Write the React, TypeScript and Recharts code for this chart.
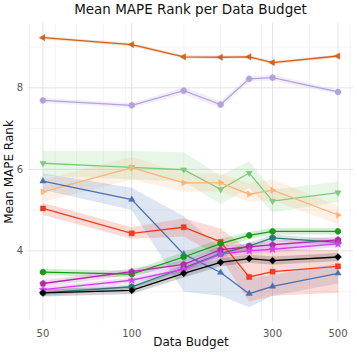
import { ComposedChart, Line, Area, XAxis, YAxis, CartesianGrid } from "recharts";

const budgets = [50, 100, 150, 200, 250, 300, 500];

// mean rank per budget
const orangeDark = [9.23, 9.06, 8.76, 8.75, 8.76, 8.62, 8.78];
const lavender = [7.69, 7.57, 7.93, 7.59, 8.22, 8.25, 7.9];
const lightGreen = [6.15, 6.05, 5.99, 5.51, 5.91, 5.22, 5.43];
const lightOrange = [5.45, 6.04, 5.67, 5.67, 5.39, 5.49, 4.88];
const blue = [5.71, 5.26, 3.92, 3.47, 2.95, 3.13, 3.45];
const red = [5.04, 4.43, 4.58, 4.22, 3.36, 3.49, 3.62];
const green = [3.48, 3.43, 3.85, 4.18, 4.38, 4.48, 4.48];
const teal = [2.97, 3.12, 3.58, 3.93, 4.12, 4.32, 4.21];
const magenta = [3.2, 3.49, 3.67, 4.03, 4.1, 4.15, 4.27];
const violet = [3.05, 3.28, 3.55, 3.92, 4.0, 4.04, 4.17];
const black = [2.97, 3.03, 3.45, 3.72, 3.81, 3.76, 3.85];

// confidence bands (low / high)
const orangeDarkLo = [9.19, 9.02, 8.72, 8.71, 8.72, 8.58, 8.74];
const orangeDarkHi = [9.27, 9.1, 8.8, 8.79, 8.8, 8.66, 8.82];
const lavenderLo = [7.63, 7.51, 7.84, 7.5, 8.15, 8.18, 7.84];
const lavenderHi = [7.75, 7.63, 8.02, 7.68, 8.29, 8.32, 7.96];
const lightGreenLo = [5.85, 5.75, 5.7, 5.15, 5.55, 4.95, 5.2];
const lightGreenHi = [6.45, 6.45, 6.42, 5.85, 6.2, 5.5, 5.7];
const lightOrangeLo = [5.2, 5.75, 5.45, 5.45, 5.2, 5.25, 4.65];
const lightOrangeHi = [5.75, 6.3, 5.9, 5.9, 5.65, 5.75, 5.1];
const blueLo = [5.5, 5.0, 3.0, 2.9, 2.62, 2.9, 3.2];
const blueHi = [5.9, 5.55, 4.85, 4.05, 3.35, 3.4, 3.7];
const redLo = [4.88, 4.3, 4.35, 3.85, 2.75, 2.9, 2.97];
const redHi = [5.18, 4.58, 4.8, 4.55, 4.02, 4.05, 4.02];
const greenLo = [3.4, 3.35, 3.73, 4.06, 4.29, 4.4, 4.4];
const greenHi = [3.56, 3.51, 3.97, 4.3, 4.47, 4.56, 4.56];
const tealLo = [2.9, 3.05, 3.5, 3.85, 4.04, 4.24, 4.13];
const tealHi = [3.04, 3.19, 3.66, 4.01, 4.2, 4.4, 4.29];
const magentaLo = [3.12, 3.41, 3.58, 3.94, 4.01, 4.06, 4.18];
const magentaHi = [3.28, 3.57, 3.76, 4.12, 4.19, 4.24, 4.36];
const violetLo = [2.98, 3.21, 3.47, 3.84, 3.92, 3.96, 4.09];
const violetHi = [3.12, 3.35, 3.63, 4.0, 4.08, 4.12, 4.25];
const blackLo = [2.88, 2.94, 3.35, 3.62, 3.71, 3.66, 3.75];
const blackHi = [3.06, 3.12, 3.55, 3.82, 3.91, 3.86, 3.95];

const xTicks = [50, 100, 300, 500];
const xMinor = [45, 55, 60, 65, 70, 75, 80, 85, 90, 95, 125, 150, 175, 200, 225, 250, 275, 325, 350, 375, 400, 425, 450, 475, 525, 550];
const yTicks = [4, 6, 8];
const yMinor = [3, 5, 7, 9];

type Marker = "o" | "s" | "^" | "v" | "<" | ">" | "D" | "p" | "*" | "h" | "8";

const series: { key: string; vals: number[]; lo: number[]; hi: number[]; color: string; marker: Marker }[] = [
  { key: "orangeDark", vals: orangeDark, lo: orangeDarkLo, hi: orangeDarkHi, color: "#d2601a", marker: "<" },
  { key: "lavender", vals: lavender, lo: lavenderLo, hi: lavenderHi, color: "#b5a0dc", marker: "o" },
  { key: "lightGreen", vals: lightGreen, lo: lightGreenLo, hi: lightGreenHi, color: "#7ccb7c", marker: "v" },
  { key: "lightOrange", vals: lightOrange, lo: lightOrangeLo, hi: lightOrangeHi, color: "#fdb475", marker: ">" },
  { key: "blue", vals: blue, lo: blueLo, hi: blueHi, color: "#4a72b0", marker: "^" },
  { key: "red", vals: red, lo: redLo, hi: redHi, color: "#f03a1f", marker: "s" },
  { key: "green", vals: green, lo: greenLo, hi: greenHi, color: "#179a17", marker: "8" },
  { key: "teal", vals: teal, lo: tealLo, hi: tealHi, color: "#2e7676", marker: "h" },
  { key: "magenta", vals: magenta, lo: magentaLo, hi: magentaHi, color: "#b02aa5", marker: "p" },
  { key: "violet", vals: violet, lo: violetLo, hi: violetHi, color: "#d440ee", marker: "*" },
  { key: "black", vals: black, lo: blackLo, hi: blackHi, color: "#000000", marker: "D" },
];

const data = budgets.map((b, i) => {
  const row: Record<string, any> = { budget: b };
  series.forEach((s) => {
    row[s.key] = s.vals[i];
    row[s.key + "Band"] = [s.lo[i], s.hi[i]];
  });
  return row;
});

function poly(cx: number, cy: number, r: number, n: number, rot: number) {
  const pts: string[] = [];
  for (let i = 0; i < n; i++) {
    const a = rot + (i * 2 * Math.PI) / n;
    pts.push(`${cx + r * Math.cos(a)},${cy + r * Math.sin(a)}`);
  }
  return "M" + pts.join("L") + "Z";
}

function star(cx: number, cy: number, ro: number, ri: number) {
  const pts: string[] = [];
  for (let i = 0; i < 10; i++) {
    const r = i % 2 === 0 ? ro : ri;
    const a = -Math.PI / 2 + (i * Math.PI) / 5;
    pts.push(`${cx + r * Math.cos(a)},${cy + r * Math.sin(a)}`);
  }
  return "M" + pts.join("L") + "Z";
}

function markerPath(m: Marker, cx: number, cy: number) {
  switch (m) {
    case "o":
      return poly(cx, cy, 3, 20, 0);
    case "s":
      return poly(cx, cy, 3.6, 4, Math.PI / 4);
    case "^":
      return poly(cx, cy, 3.6, 3, -Math.PI / 2);
    case "v":
      return poly(cx, cy, 3.6, 3, Math.PI / 2);
    case "<":
      return poly(cx, cy, 3.6, 3, Math.PI);
    case ">":
      return poly(cx, cy, 3.6, 3, 0);
    case "D":
      return poly(cx, cy, 3.4, 4, 0);
    case "p":
      return poly(cx, cy, 3.3, 5, -Math.PI / 2);
    case "*":
      return star(cx, cy, 4, 1.7);
    case "h":
      return poly(cx, cy, 3.3, 6, -Math.PI / 2);
    case "8":
      return poly(cx, cy, 3.1, 8, Math.PI / 8);
  }
}

const makeDot = (m: Marker, color: string) => (props: any) => {
  const { cx, cy, index } = props;
  if (cx == null || cy == null) return <g key={index} />;
  return <path key={index} d={markerPath(m, cx, cy)} fill={color} stroke={color} strokeWidth={0.5} />;
};

const tickStyle = { fontSize: 10, fill: "#555", fontFamily: "DejaVu Sans" };

export default function App() {
  return (
    <div style={{ position: "absolute", left: 0, top: 0, width: 357, height: 357, background: "#fff", fontFamily: "DejaVu Sans" }}>
      <div style={{ position: "absolute", left: 0, width: 381, top: 1, textAlign: "center", fontSize: 13.5, lineHeight: "16px", color: "#111" }}>
        Mean MAPE Rank per Data Budget
      </div>
      <div style={{ position: "absolute", left: 0, width: 382, top: 335, textAlign: "center", fontSize: 12, lineHeight: "14px", color: "#111" }}>
        Data Budget
      </div>
      <div
        style={{
          position: "absolute",
          left: 9,
          top: 172,
          transform: "translate(-50%, -50%) rotate(-90deg)",
          fontSize: 12,
          lineHeight: "14px",
          whiteSpace: "nowrap",
          color: "#111",
        }}
      >
        Mean MAPE Rank
      </div>
      <ComposedChart width={357} height={357} data={data} margin={{ top: 23, right: 4, bottom: 0, left: 0 }}>
        <CartesianGrid stroke="#f1f1f1" strokeWidth={0.8} horizontalValues={yMinor} verticalValues={xMinor} />
        <CartesianGrid stroke="#e3e3e3" strokeWidth={1} horizontalValues={yTicks} verticalValues={xTicks} />
        <XAxis
          dataKey="budget"
          type="number"
          scale="log"
          domain={[44.5, 562]}
          allowDataOverflow
          ticks={xTicks}
          height={36}
          tickLine={false}
          axisLine={false}
          tickSize={0}
          tickMargin={9}
          tick={tickStyle}
        />
        <YAxis
          type="number"
          domain={[2.28, 9.59]}
          allowDataOverflow
          ticks={yTicks}
          width={28}
          tickLine={false}
          axisLine={false}
          tickSize={0}
          tickMargin={5}
          tick={tickStyle}
        />
        {series.map((s) => (
          <Area
            key={s.key + "Band"}
            dataKey={s.key + "Band"}
            type="linear"
            stroke="none"
            fill={s.color}
            fillOpacity={0.18}
            isAnimationActive={false}
            activeDot={false}
          />
        ))}
        {series.map((s) => (
          <Line
            key={s.key}
            dataKey={s.key}
            type="linear"
            stroke={s.color}
            strokeWidth={1.3}
            dot={makeDot(s.marker, s.color)}
            activeDot={false}
            isAnimationActive={false}
          />
        ))}
      </ComposedChart>
    </div>
  );
}
